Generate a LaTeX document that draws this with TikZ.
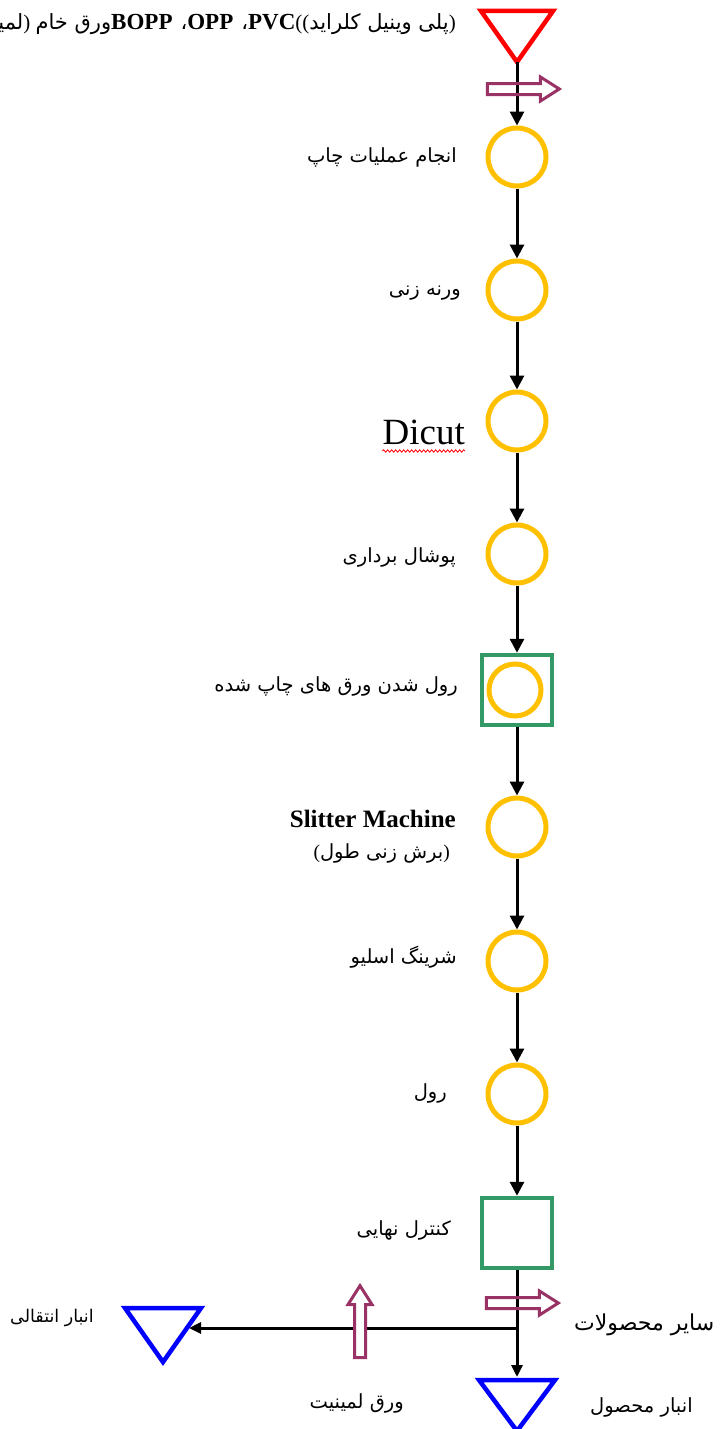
\documentclass[tikz,border=0pt]{standalone}
\usepackage{fontspec}
\setmainfont{Liberation Serif}
\newfontfamily\arabicfont[Script=Arabic]{DejaVu Sans}
\TeXXeTstate=1
\usetikzlibrary{arrows.meta,shapes.arrows,decorations.pathmorphing}
\newcommand{\fatext}[1]{{\arabicfont\beginR #1\endR}}
\definecolor{opyellow}{RGB}{255,192,0}
\definecolor{insgreen}{RGB}{51,153,102}
\definecolor{moveplum}{RGB}{153,51,102}
\definecolor{storeblue}{RGB}{0,0,255}
\begin{document}
\begin{tikzpicture}[x=1pt,y=-1pt,
  op/.style={circle, draw=opyellow, line width=5pt, minimum size=58pt, inner sep=0pt},
  insp/.style={rectangle, draw=insgreen, line width=4.5pt, minimum size=70pt, inner sep=0pt},
  flow/.style={line width=3pt, -{Triangle[length=14pt,width=14pt]}},
  flowsmall/.style={line width=3pt, -{Triangle[length=12pt,width=11pt]}},
  move/.style={single arrow, draw=moveplum, line width=3pt, inner sep=0pt, inner ysep=4pt,
    single arrow head extend=6.5pt, single arrow tip angle=65, minimum height=72pt},
  store/.style={line width=4.5pt, line join=miter},
  lbl/.style={inner sep=0pt, font=\fontsize{19.5}{23}\selectfont}]
\useasboundingbox (0,0) rectangle (720,1429);

\draw[store, red] (481,11) -- (553,11) -- (517,62) -- cycle;
\coordinate (rawtip) at (517,62);
\node[lbl, anchor=east, font=\fontsize{21}{24}\selectfont] (rawlbl) at (456,24)
  {\fatext{لمینیت})\ \fatext{ورق خام}{\bfseries\fontsize{23}{26}\selectfont BOPP\hspace{8pt}}\fatext{،}{\bfseries\fontsize{23}{26}\selectfont OPP\hspace{8pt}}\fatext{،}{\bfseries\fontsize{23}{26}\selectfont PVC}((\fatext{پلی وینیل کلراید})};

\node[op] (print) at (517,157) {};
\node[op] (varne) at (517,290) {};
\node[op] (dicut) at (517,421) {};
\node[op] (pooshal) at (517,554) {};
\node[insp] (rollbox) at (517,690) {};
\node[op, minimum size=52pt] (rollprint) at (515,690) {};
\node[op] (slitter) at (517,827) {};
\node[op] (shrink) at (517,961) {};
\node[op] (roll) at (517,1094) {};
\node[insp] (final) at (517,1233) {};

\node[lbl, anchor=east] (printlbl) at (457,157) {\fatext{انجام عملیات چاپ}};
\node[lbl, anchor=east] (varnelbl) at (461,293) {\fatext{ورنه زنی}};
\node[inner sep=0pt, anchor=base east, font=\fontsize{37}{40}\selectfont] (dicutlbl) at (465,444) {Dicut};
\node[lbl, anchor=east] (pooshallbl) at (456,557) {\fatext{پوشال برداری}};
\node[lbl, anchor=east] (rollprintlbl) at (458,686) {\fatext{رول شدن ورق های چاپ شده}};
\node[inner sep=0pt, anchor=east, font=\bfseries\fontsize{25}{28}\selectfont] (slitterlbl) at (456,819) {Slitter Machine};
\node[lbl, anchor=east] (slitterfa) at (450,853) {(\fatext{برش زنی طول})};
\node[lbl, anchor=east] (shrinklbl) at (457,957) {\fatext{شرینگ اسلیو}};
\node[lbl, anchor=east] (rolllbl) at (447,1093) {\fatext{رول}};
\node[lbl, anchor=east] (finallbl) at (451,1230) {\fatext{کنترل نهایی}};

\draw[red, line width=0.8pt, decorate, decoration={snake, amplitude=1.2pt, segment length=4pt}]
  ([yshift=-7pt]dicutlbl.base west) -- ([yshift=-7pt]dicutlbl.base east);

\draw[flow] (rawtip) -- (print);
\draw[flow] (print) -- (varne);
\draw[flow] (varne) -- (dicut);
\draw[flow] (dicut) -- (pooshal);
\draw[flow] (pooshal) -- (rollbox);
\draw[flow] (rollbox) -- (slitter);
\draw[flow] (slitter) -- (shrink);
\draw[flow] (shrink) -- (roll);
\draw[flow] (roll) -- (final);

\node[move] (inmove) at (519,89) {};

\draw[store, storeblue] (479,1380) -- (555,1380) -- (517,1431) -- cycle;
\draw[store, storeblue] (125,1308) -- (201,1308) -- (163,1362) -- cycle;
\coordinate (prodstore) at (517,1377);
\coordinate (split) at (517,1328);
\coordinate (transit) at (189,1328);
\draw[flowsmall] (final) -- (prodstore);
\draw[flowsmall] (split) -- (transit);

\node[move] (othermove) at (518,1303) {};
\node[move, rotate=90, fill=white] (lamin) at (360,1326) {};

\node[lbl, anchor=west, font=\fontsize{22}{26}\selectfont] (otherlbl) at (574,1325) {\fatext{سایر محصولات}};
\node[lbl, anchor=west] (prodlbl) at (590,1407) {\fatext{انبار محصول}};
\node[lbl, anchor=east] (laminlbl) at (404,1403) {\fatext{ورق لمینیت}};
\node[lbl, anchor=west, font=\fontsize{17.5}{21}\selectfont] (transitlbl) at (10,1318) {\fatext{انبار انتقالی}};
\end{tikzpicture}
\end{document}
